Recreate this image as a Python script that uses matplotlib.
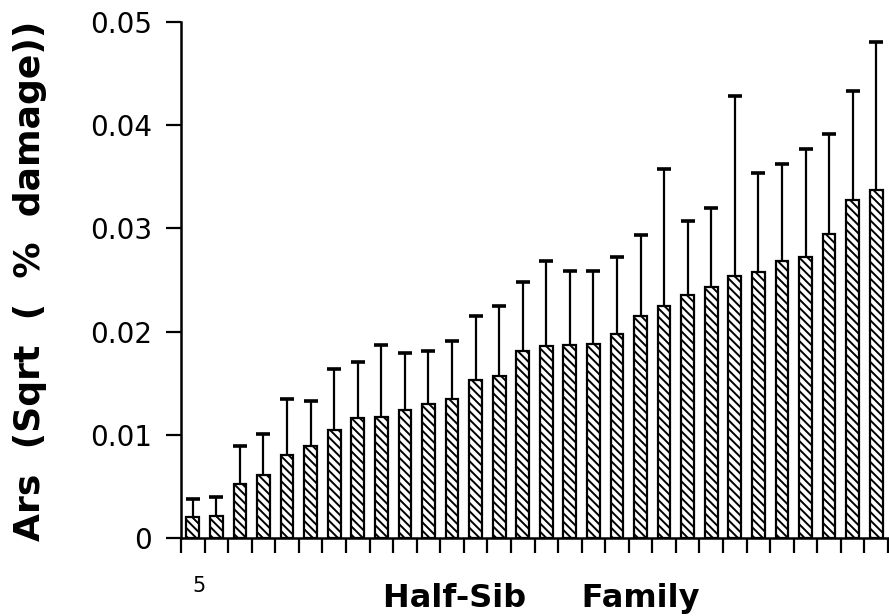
import matplotlib
matplotlib.use("Agg")
import matplotlib.pyplot as plt
import matplotlib.transforms as mtransforms
import numpy as np

# ---- data ----
families = list(range(1, 31))
means = [0.0020, 0.0021, 0.0052, 0.0061, 0.0080, 0.0089, 0.0105, 0.0116, 0.0117, 0.0124,
         0.0130, 0.0135, 0.0153, 0.0157, 0.0181, 0.0186, 0.0187, 0.0188, 0.0198, 0.0215,
         0.0225, 0.0235, 0.0243, 0.0254, 0.0258, 0.0268, 0.0272, 0.0295, 0.0328, 0.0337]
errors = [0.0018, 0.0019, 0.0037, 0.0040, 0.0055, 0.0044, 0.0059, 0.0055, 0.0070, 0.0055,
          0.0051, 0.0056, 0.0062, 0.0068, 0.0067, 0.0082, 0.0072, 0.0071, 0.0074, 0.0079,
          0.0133, 0.0072, 0.0077, 0.0174, 0.0096, 0.0094, 0.0105, 0.0096, 0.0105, 0.0144]
ytick_values = [0, 0.01, 0.02, 0.03, 0.04, 0.05]
ytick_labels = ["0", "0.01", "0.02", "0.03", "0.04", "0.05"]
xlabel = "Half-Sib     Family"
ylabel = "Ars  (Sqrt  (  %  damage))"
corner_label = "5"

plt.rcParams['font.family'] = ['DejaVu Sans']
plt.rcParams['hatch.linewidth'] = 1.4

fig = plt.figure(figsize=(8.89, 6.16), dpi=100)
ax = fig.add_axes([181/889, 1 - 538/616, (888 - 181)/889, (538 - 22)/616])

x = np.array(families)
ax.bar(x, means, width=0.54, color='white', edgecolor='black', linewidth=1.6,
       hatch='\\\\\\\\', zorder=2)
ax.errorbar(x, means, yerr=[np.zeros(len(errors)), errors], fmt='none',
            ecolor='black', elinewidth=1.6, capsize=0, zorder=3)
ax.plot(x, np.array(means) + np.array(errors), ls='none', marker='_',
        markersize=9.5, markeredgewidth=2.6, color='black', zorder=3)

ax.set_xlim(0.5, 30.5)
ax.set_ylim(0, 0.05)
ax.set_yticks(ytick_values)
ax.set_yticklabels(ytick_labels, fontsize=20)
ax.set_xticks(np.arange(0.5, 31.0, 1.0))
ax.set_xticklabels([])
ax.tick_params(axis='y', direction='out', length=11, width=1.6, pad=10)
ax.tick_params(axis='x', direction='out', length=11, width=1.6)

for s in ['top', 'right']:
    ax.spines[s].set_visible(False)
for s in ['left', 'bottom']:
    ax.spines[s].set_linewidth(1.8)

trans = mtransforms.blended_transform_factory(ax.transData, ax.transAxes)
ax.text(1.25, -48/516, corner_label, transform=trans, fontsize=15,
        ha='center', va='center')

fig.text(541/889, 1 - 598/616, xlabel, fontsize=23, fontweight='bold',
         ha='center', va='center')
fig.text(30/889, 1 - 281/616, ylabel, fontsize=26, fontweight='bold',
         rotation=90, ha='center', va='center')

fig.savefig("out.png", dpi=100)
